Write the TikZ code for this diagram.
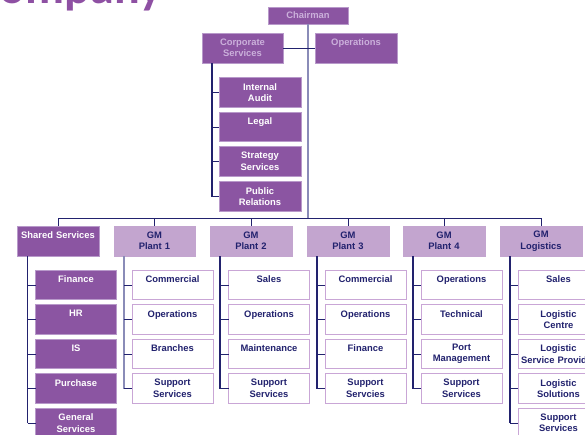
\documentclass[tikz,border=0pt]{standalone}
\usepackage{fontspec}
\setmainfont{Liberation Sans}
\newfontfamily\titlefont{Carlito}
\definecolor{pdark}{HTML}{8B55A2}
\definecolor{pborder}{HTML}{B899CA}
\definecolor{plav}{HTML}{CBB0DB}
\definecolor{plight}{HTML}{C3A5CF}
\definecolor{navy}{HTML}{22226E}
\definecolor{pleaf}{HTML}{C9A6D6}
\definecolor{lline}{HTML}{8A8CB8}
\definecolor{ptitle}{HTML}{8E50A3}
\begin{document}
\begin{tikzpicture}[x=1pt,y=-1pt,
  box/.style={line width=0.8pt, minimum height=29.5pt, inner sep=0pt, outer sep=0pt,
    align=center, text width=81pt, font=\bfseries\fontsize{9.4}{11.5}\selectfont},
  topbox/.style={box, fill=pdark, draw=pborder, text=plav},
  dsub/.style={box, fill=pdark, draw=pborder, text=white},
  gmbox/.style={box, fill=plight, draw=plight, text=navy},
  leaf/.style={box, fill=white, draw=pleaf, text=navy},
  tick/.style={draw=navy, line width=0.9pt},
  vline/.style={draw=navy, line width=1.3pt},
  lvline/.style={draw=lline, line width=1.6pt}]
\useasboundingbox (0,0) rectangle (585,434);
\clip (0,0) rectangle (585,434);

% title
\node[anchor=base east, text=ptitle, inner sep=0pt,
  font=\titlefont\bfseries\fontsize{48}{50}\selectfont] (title) at (162,3) {Company};

% top level
\node[topbox, text width=80pt, minimum height=17pt] (ch) at (308,15.5) {Chairman};
\node[topbox, minimum height=30pt] (cs) at (242.5,48) {Corporate\\Services};
\node[topbox, text width=82pt, minimum height=30pt] (op) at (356,48) {Operations\\\mbox{}};

% corporate sub
\node[dsub, text width=82pt] (ia) at (260,92.5) {Internal\\Audit};
\node[dsub, text width=82pt] (lg) at (260,127) {Legal\\\mbox{}};
\node[dsub, text width=82pt] (st) at (260,161.5) {Strategy\\Services};
\node[dsub, text width=82pt] (pr) at (260,196.5) {Public\\Relations};

% second row
\node[dsub, text width=82pt, minimum height=30pt] (ss) at (58,241) {Shared Services\\\mbox{}};
\node[gmbox, minimum height=30pt] (p1) at (154.5,241) {GM\\Plant 1};
\node[gmbox, text width=82pt, minimum height=30pt] (p2) at (251,241) {GM\\Plant 2};
\node[gmbox, text width=82pt, minimum height=30pt] (p3) at (348,241) {GM\\Plant 3};
\node[gmbox, text width=82pt, minimum height=30pt] (p4) at (444,241) {GM\\Plant 4};
\node[gmbox, text width=82pt, minimum height=30pt] (lo) at (541,241) {GM\\Logistics};

% shared services leaves
\node[dsub] (s1) at (76,285) {Finance\\\mbox{}};
\node[dsub] (s2) at (76,319.5) {HR\\\mbox{}};
\node[dsub] (s3) at (76,354) {IS\\\mbox{}};
\node[dsub] (s4) at (76,388.5) {Purchase\\\mbox{}};
\node[dsub] (s5) at (76,423) {General\\Services};

% plant 1
\node[leaf] (a1) at (172.5,285) {Commercial\\\mbox{}};
\node[leaf] (a2) at (172.5,319.5) {Operations\\\mbox{}};
\node[leaf] (a3) at (172.5,354) {Branches\\\mbox{}};
\node[leaf] (a4) at (172.5,388.5) {Support\\Services};
% plant 2
\node[leaf] (b1) at (269,285) {Sales\\\mbox{}};
\node[leaf] (b2) at (269,319.5) {Operations\\\mbox{}};
\node[leaf] (b3) at (269,354) {Maintenance\\\mbox{}};
\node[leaf] (b4) at (269,388.5) {Support\\Services};
% plant 3
\node[leaf] (c1) at (365.5,285) {Commercial\\\mbox{}};
\node[leaf] (c2) at (365.5,319.5) {Operations\\\mbox{}};
\node[leaf] (c3) at (365.5,354) {Finance\\\mbox{}};
\node[leaf] (c4) at (365.5,388.5) {Support\\Servcies};
% plant 4
\node[leaf] (d1) at (461.5,285) {Operations\\\mbox{}};
\node[leaf] (d2) at (461.5,319.5) {Technical\\\mbox{}};
\node[leaf] (d3) at (461.5,354) {Port\\Management};
\node[leaf] (d4) at (461.5,388.5) {Support\\Services};
% logistics
\node[leaf] (e1) at (558.5,285) {Sales\\\mbox{}};
\node[leaf] (e2) at (558.5,319.5) {Logistic\\Centre};
\node[leaf] (e3) at (558.5,354) {Logistic\\Service Provider};
\node[leaf] (e4) at (558.5,388.5) {Logistic\\Solutions};
\node[leaf] (e5) at (558.5,423) {Support\\Services};

% connectors: top
\coordinate (busL) at ([yshift=8pt]ss.north);
\coordinate (busR) at ([yshift=8pt]lo.north);
\draw[lvline] (ch.south) -- (ch.south |- busL);
\draw[tick] (cs.east) -- (op.west);
\draw[vline] ([xshift=10pt]cs.south west) -- ([xshift=10pt]cs.south west |- pr.west);
\foreach \n in {ia,lg,st,pr}
  \draw[tick] ([xshift=10pt]cs.south west |- \n.west) -- (\n.west);

% bus
\draw[tick] (busL) -- (busR);
\foreach \n in {ss,p1,p2,p3,p4,lo}
  \draw[tick] ([yshift=8pt]\n.north) -- (\n.north);

% column verticals and ticks
\draw[vline] ([xshift=10.5pt]ss.south west) -- ([xshift=10.5pt]ss.south west |- s5.west);
\foreach \n in {s1,s2,s3,s4,s5}
  \draw[tick] ([xshift=10.5pt]ss.south west |- \n.west) -- (\n.west);
\draw[lvline] ([xshift=10pt]p1.south west) -- ([xshift=10pt]p1.south west |- a4.west);
\foreach \n in {a1,a2,a3,a4}
  \draw[tick] ([xshift=10pt]p1.south west |- \n.west) -- (\n.west);
\draw[vline] ([xshift=10pt]p2.south west) -- ([xshift=10pt]p2.south west |- b4.west);
\foreach \n in {b1,b2,b3,b4}
  \draw[tick] ([xshift=10pt]p2.south west |- \n.west) -- (\n.west);
\draw[vline] ([xshift=10pt]p3.south west) -- ([xshift=10pt]p3.south west |- c4.west);
\foreach \n in {c1,c2,c3,c4}
  \draw[tick] ([xshift=10pt]p3.south west |- \n.west) -- (\n.west);
\draw[vline] ([xshift=10pt]p4.south west) -- ([xshift=10pt]p4.south west |- d4.west);
\foreach \n in {d1,d2,d3,d4}
  \draw[tick] ([xshift=10pt]p4.south west |- \n.west) -- (\n.west);
\draw[vline] ([xshift=10pt]lo.south west) -- ([xshift=10pt]lo.south west |- e5.west);
\foreach \n in {e1,e2,e3,e4,e5}
  \draw[tick] ([xshift=10pt]lo.south west |- \n.west) -- (\n.west);
\end{tikzpicture}
\end{document}
